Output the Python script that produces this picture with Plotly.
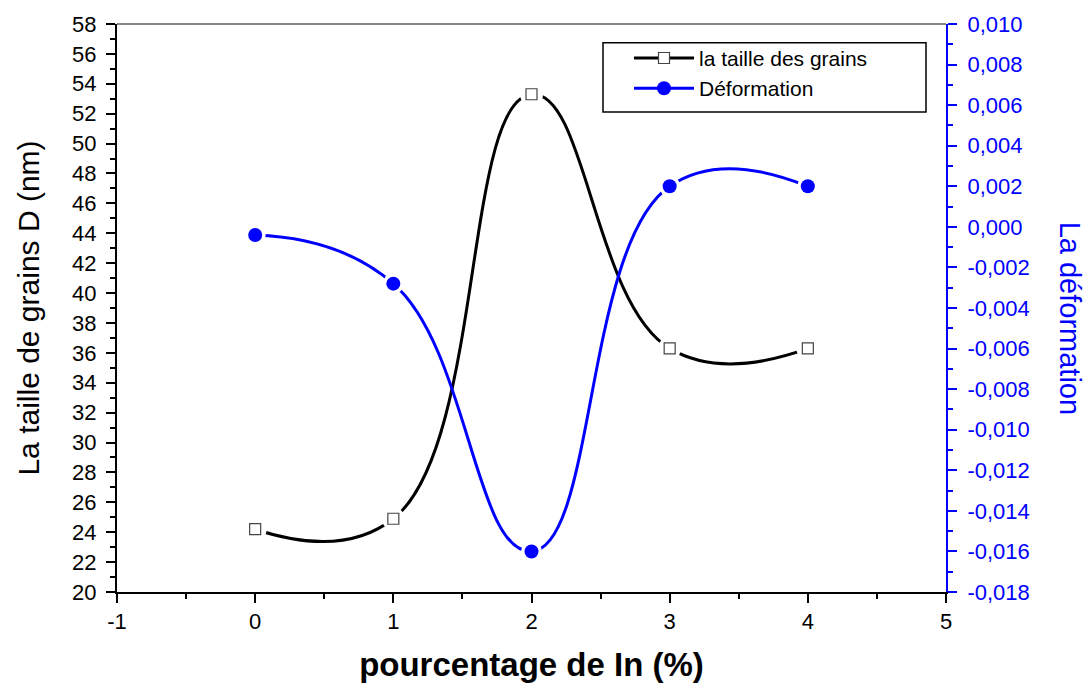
import plotly.graph_objects as go

# Indium percentage (x), grain size D in nm (left axis), strain (right axis)
indium_pct = [0, 1, 2, 3, 4]
grain_size_nm = [24.2, 24.9, 53.3, 36.3, 36.3]
strain = [-0.0004, -0.0028, -0.0160, 0.0020, 0.0020]

x_tickvals = [-1, 0, 1, 2, 3, 4, 5]
x_ticktext = ["-1", "0", "1", "2", "3", "4", "5"]
left_tickvals = list(range(20, 59, 2))
left_ticktext = [str(v) for v in left_tickvals]
right_tickvals = [-0.018, -0.016, -0.014, -0.012, -0.010, -0.008, -0.006,
                  -0.004, -0.002, 0.000, 0.002, 0.004, 0.006, 0.008, 0.010]
right_ticktext = ["-0,018", "-0,016", "-0,014", "-0,012", "-0,010", "-0,008", "-0,006",
                  "-0,004", "-0,002", "0,000", "0,002", "0,004", "0,006", "0,008", "0,010"]

BLUE = "#0000FF"
FONT = "Liberation Sans, Arial, sans-serif"

# plot-area geometry in pixels, used to place the legend frame
W, H = 1091, 689
ML, MR, MT, MB = 117, 145, 18, 96
PW, PH = W - ML - MR, H - MT - MB


def px_to_paper(px, py):
    return (px - ML) / PW, (H - MB - py) / PH


fig = go.Figure()

# smooth curves
fig.add_trace(go.Scatter(x=indium_pct, y=grain_size_nm, mode="lines",
                         line=dict(color="black", width=3, shape="spline", smoothing=1.3),
                         showlegend=False, hoverinfo="skip"))
fig.add_trace(go.Scatter(x=indium_pct, y=strain, mode="lines", yaxis="y2",
                         line=dict(color=BLUE, width=3, shape="spline", smoothing=1.3),
                         showlegend=False, hoverinfo="skip"))

# white halos so the curves stop short of the symbols
fig.add_trace(go.Scatter(x=indium_pct, y=grain_size_nm, mode="markers",
                         marker=dict(symbol="circle", size=23, color="white", line=dict(width=0)),
                         showlegend=False, hoverinfo="skip"))
fig.add_trace(go.Scatter(x=indium_pct, y=strain, mode="markers", yaxis="y2",
                         marker=dict(symbol="circle", size=21, color="white", line=dict(width=0)),
                         showlegend=False, hoverinfo="skip"))

# symbols
fig.add_trace(go.Scatter(x=indium_pct, y=grain_size_nm, mode="markers",
                         marker=dict(symbol="square", size=11, color="white",
                                     line=dict(color="#444444", width=1.2)),
                         showlegend=False))
fig.add_trace(go.Scatter(x=indium_pct, y=strain, mode="markers", yaxis="y2",
                         marker=dict(symbol="circle", size=14, color=BLUE, line=dict(width=0)),
                         showlegend=False))

# legend entries
fig.add_trace(go.Scatter(x=[None], y=[None], mode="lines+markers", name="la taille des grains",
                         line=dict(color="black", width=3),
                         marker=dict(symbol="square", size=11, color="white",
                                     line=dict(color="#444444", width=1.2))))
fig.add_trace(go.Scatter(x=[None], y=[None], mode="lines+markers", name="Déformation",
                         yaxis="y2", line=dict(color=BLUE, width=3),
                         marker=dict(symbol="circle", size=14, color=BLUE)))

bx0, by0 = px_to_paper(603, 107)
bx1, by1 = px_to_paper(926, 37)
lgx, lgy = px_to_paper(629, 32)

fig.update_layout(
    width=W, height=H,
    margin=dict(l=ML, r=MR, t=MT, b=MB),
    paper_bgcolor="white", plot_bgcolor="white",
    font=dict(family=FONT, color="black"),
    xaxis=dict(
        range=[-1, 5], tickvals=x_tickvals, ticktext=x_ticktext,
        showgrid=False, zeroline=False,
        showline=True, linecolor="black", linewidth=2, mirror=False,
        ticks="outside", ticklen=9, tickwidth=2, tickcolor="black",
        minor=dict(dtick=0.5, tick0=0, ticks="outside", ticklen=5, tickwidth=2, tickcolor="black"),
        tickfont=dict(family=FONT, size=22),
        title=dict(text="<b>pourcentage de In (%)</b>", font=dict(size=33, family=FONT), standoff=19),
    ),
    yaxis=dict(
        range=[20, 58], tickvals=left_tickvals, ticktext=left_ticktext,
        showgrid=False, zeroline=False,
        showline=True, linecolor="black", linewidth=2,
        ticks="outside", ticklen=9, tickwidth=2, tickcolor="black",
        minor=dict(dtick=1, tick0=20, ticks="outside", ticklen=5, tickwidth=2, tickcolor="black"),
        tickfont=dict(size=22), ticklabelstandoff=5,
        title=dict(text="La taille de grains D (nm)", font=dict(size=30), standoff=24),
    ),
    yaxis2=dict(
        range=[-0.018, 0.010], overlaying="y", side="right", anchor="x",
        tickvals=right_tickvals, ticktext=right_ticktext,
        showgrid=False, zeroline=False,
        showline=True, linecolor=BLUE, linewidth=2,
        ticks="outside", ticklen=9, tickwidth=2, tickcolor=BLUE,
        minor=dict(dtick=0.001, tick0=0, ticks="outside", ticklen=5, tickwidth=2, tickcolor=BLUE),
        tickfont=dict(size=22, color=BLUE), ticklabelstandoff=6,
    ),
    legend=dict(
        x=lgx, y=lgy, xanchor="left", yanchor="top",
        borderwidth=0, bgcolor="rgba(0,0,0,0)",
        font=dict(size=21, family=FONT), itemwidth=60, tracegroupgap=0,
    ),
    shapes=[
        dict(type="line", xref="paper", yref="paper", x0=0, x1=1, y0=1, y1=1,
             line=dict(color="#888888", width=2)),
        dict(type="rect", xref="paper", yref="paper", x0=bx0, x1=bx1, y0=by0, y1=by1,
             line=dict(color="black", width=1.5), fillcolor="rgba(0,0,0,0)"),
    ],
    annotations=[dict(text="La déformation", xref="paper", yref="paper",
                      x=1.0, xshift=124, y=0.483, textangle=90, showarrow=False,
                      font=dict(size=29, color=BLUE, family=FONT),
                      xanchor="center", yanchor="middle")],
)

fig.write_html("out.html")
